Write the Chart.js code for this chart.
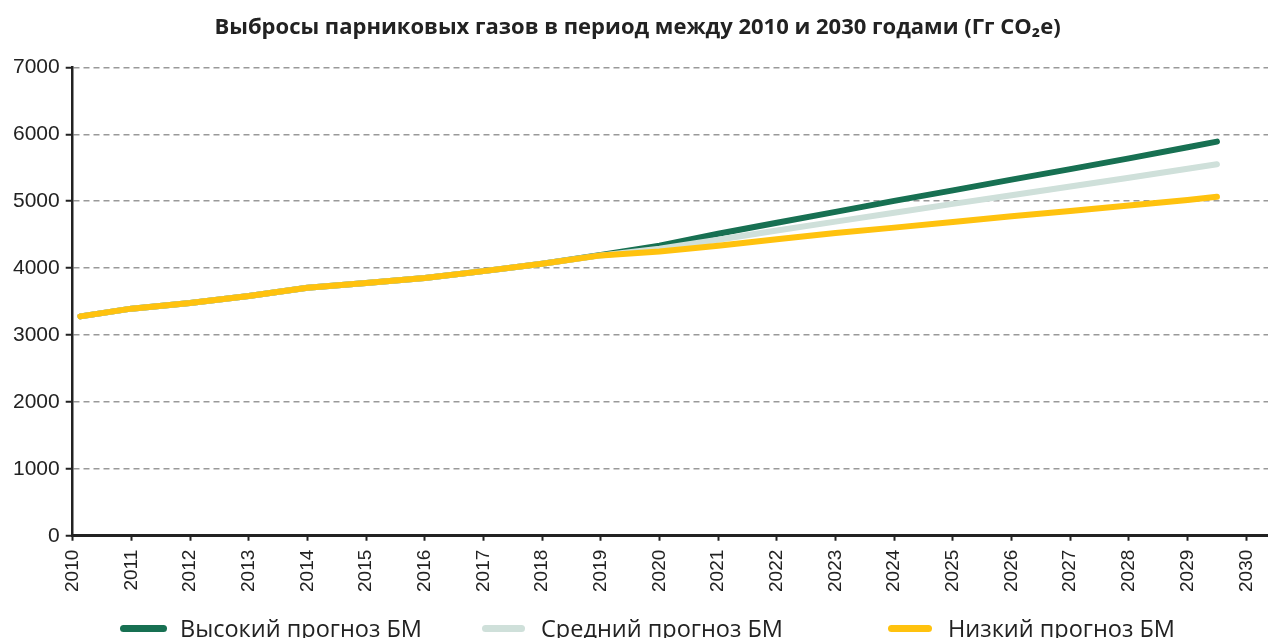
<!DOCTYPE html>
<html>
<head>
<meta charset="utf-8">
<script src="https://cdn.jsdelivr.net/npm/chart.js@4"></script>
<style>
  body { margin: 0; background: #fff; }
  #wrap { position: relative; width: 1268px; height: 638px; overflow: hidden; }
  #legend { position: absolute; left: 0; top: 613px; width: 1268px; height: 32px;
            font-family: "Open Sans", sans-serif; font-size: 23.5px; color: #222; }
  #legend .sw { position: absolute; top: 12px; height: 7px; border-radius: 4px; }
  #legend .tx { position: absolute; top: 0; line-height: 30px; white-space: nowrap; }
</style>
</head>
<body>
<div id="wrap">
  <canvas id="chart" width="1268" height="638"></canvas>
  <div id="legend"></div>
</div>
<script>
// годы (первая и последняя точки чуть смещены, как на исходном рисунке)
var years = [2010.13, 2011, 2012, 2013, 2014, 2015, 2016, 2017, 2018, 2019,
  2020, 2021, 2022, 2023, 2024, 2025, 2026, 2027, 2028, 2029, 2029.5];
var high = [3279, 3394, 3478, 3582, 3707, 3776, 3851, 3955, 4066, 4195,
  4334, 4513, 4678, 4840, 5005, 5162, 5322, 5480, 5640, 5807, 5891];
var mid = [3279, 3394, 3478, 3582, 3707, 3776, 3851, 3955, 4066, 4190,
  4290, 4424, 4563, 4695, 4828, 4960, 5090, 5220, 5350, 5485, 5552];
var low = [3279, 3394, 3478, 3582, 3707, 3776, 3851, 3955, 4066, 4190,
  4249, 4334, 4433, 4525, 4605, 4690, 4775, 4855, 4935, 5017, 5066];
var seriesNames = ["Высокий прогноз БМ", "Средний прогноз БМ", "Низкий прогноз БМ"];
var seriesColors = ["#177052", "#cfe0da", "#ffc20e"];
var title = "Выбросы парниковых газов в период между 2010 и 2030 годами (Гг CO₂e)";

function pts(values) {
  return values.map((v, i) => ({ x: years[i], y: v }));
}

var lineStyle = {
  borderWidth: 6,
  borderCapStyle: "round",
  borderJoinStyle: "round",
  pointRadius: 0,
  fill: false,
  tension: 0,
};

const ctx = document.getElementById("chart").getContext("2d");
const chart = new Chart(ctx, {
  type: "line",
  data: {
    datasets: [
      Object.assign({ label: seriesNames[0], data: pts(high), borderColor: seriesColors[0], order: 2 }, lineStyle),
      Object.assign({ label: seriesNames[1], data: pts(mid), borderColor: seriesColors[1], order: 1 }, lineStyle),
      Object.assign({ label: seriesNames[2], data: pts(low), borderColor: seriesColors[2], order: 0 }, lineStyle),
    ],
  },
  options: {
    responsive: false,
    animation: false,
    layout: { padding: { left: 7, right: 0, top: 0, bottom: 37 } },
    plugins: {
      legend: { display: false },
      tooltip: { enabled: false },
      title: {
        display: true,
        text: title,
        color: "#222",
        font: { family: "Open Sans", size: 22, weight: "bold" },
        padding: { top: 15, bottom: 26 },
      },
    },
    scales: {
      x: {
        type: "linear",
        min: 2010,
        max: 2030.37,
        afterFit: (scale) => {
          scale.paddingRight = 0;
        },
        ticks: {
          stepSize: 1,
          includeBounds: false,
          minRotation: 90,
          maxRotation: 90,
          padding: 9,
          color: "#222",
          font: { family: "Liberation Sans", size: 19 },
          callback: (v) => (Number.isInteger(v) ? String(v) : ""),
        },
        grid: { drawOnChartArea: false, drawTicks: true, tickLength: 5, tickColor: "#222", tickWidth: 2 },
        border: { color: "#222", width: 3 },
      },
      y: {
        min: 0,
        max: 7000,
        ticks: {
          stepSize: 1000,
          padding: 6,
          color: "#222",
          font: { family: "Liberation Sans", size: 21 },
          callback: (v) => String(v),
        },
        grid: { color: "#999", lineWidth: 1.5, tickLength: 7, tickColor: "#222", tickWidth: 2, tickBorderDash: [] },
        border: { color: "#222", width: 2.5, dash: [6, 4] },
      },
    },
  },
});

// легенда
var legendPos = [[120, 47, 180], [482, 43, 541], [888, 44, 948]];
var legend = document.getElementById("legend");
seriesNames.forEach((name, i) => {
  var sw = document.createElement("div");
  sw.className = "sw";
  sw.style.left = legendPos[i][0] + "px";
  sw.style.width = legendPos[i][1] + "px";
  sw.style.background = seriesColors[i];
  legend.appendChild(sw);
  var tx = document.createElement("div");
  tx.className = "tx";
  tx.style.left = legendPos[i][2] + "px";
  tx.textContent = name;
  legend.appendChild(tx);
});
</script>
</body>
</html>
